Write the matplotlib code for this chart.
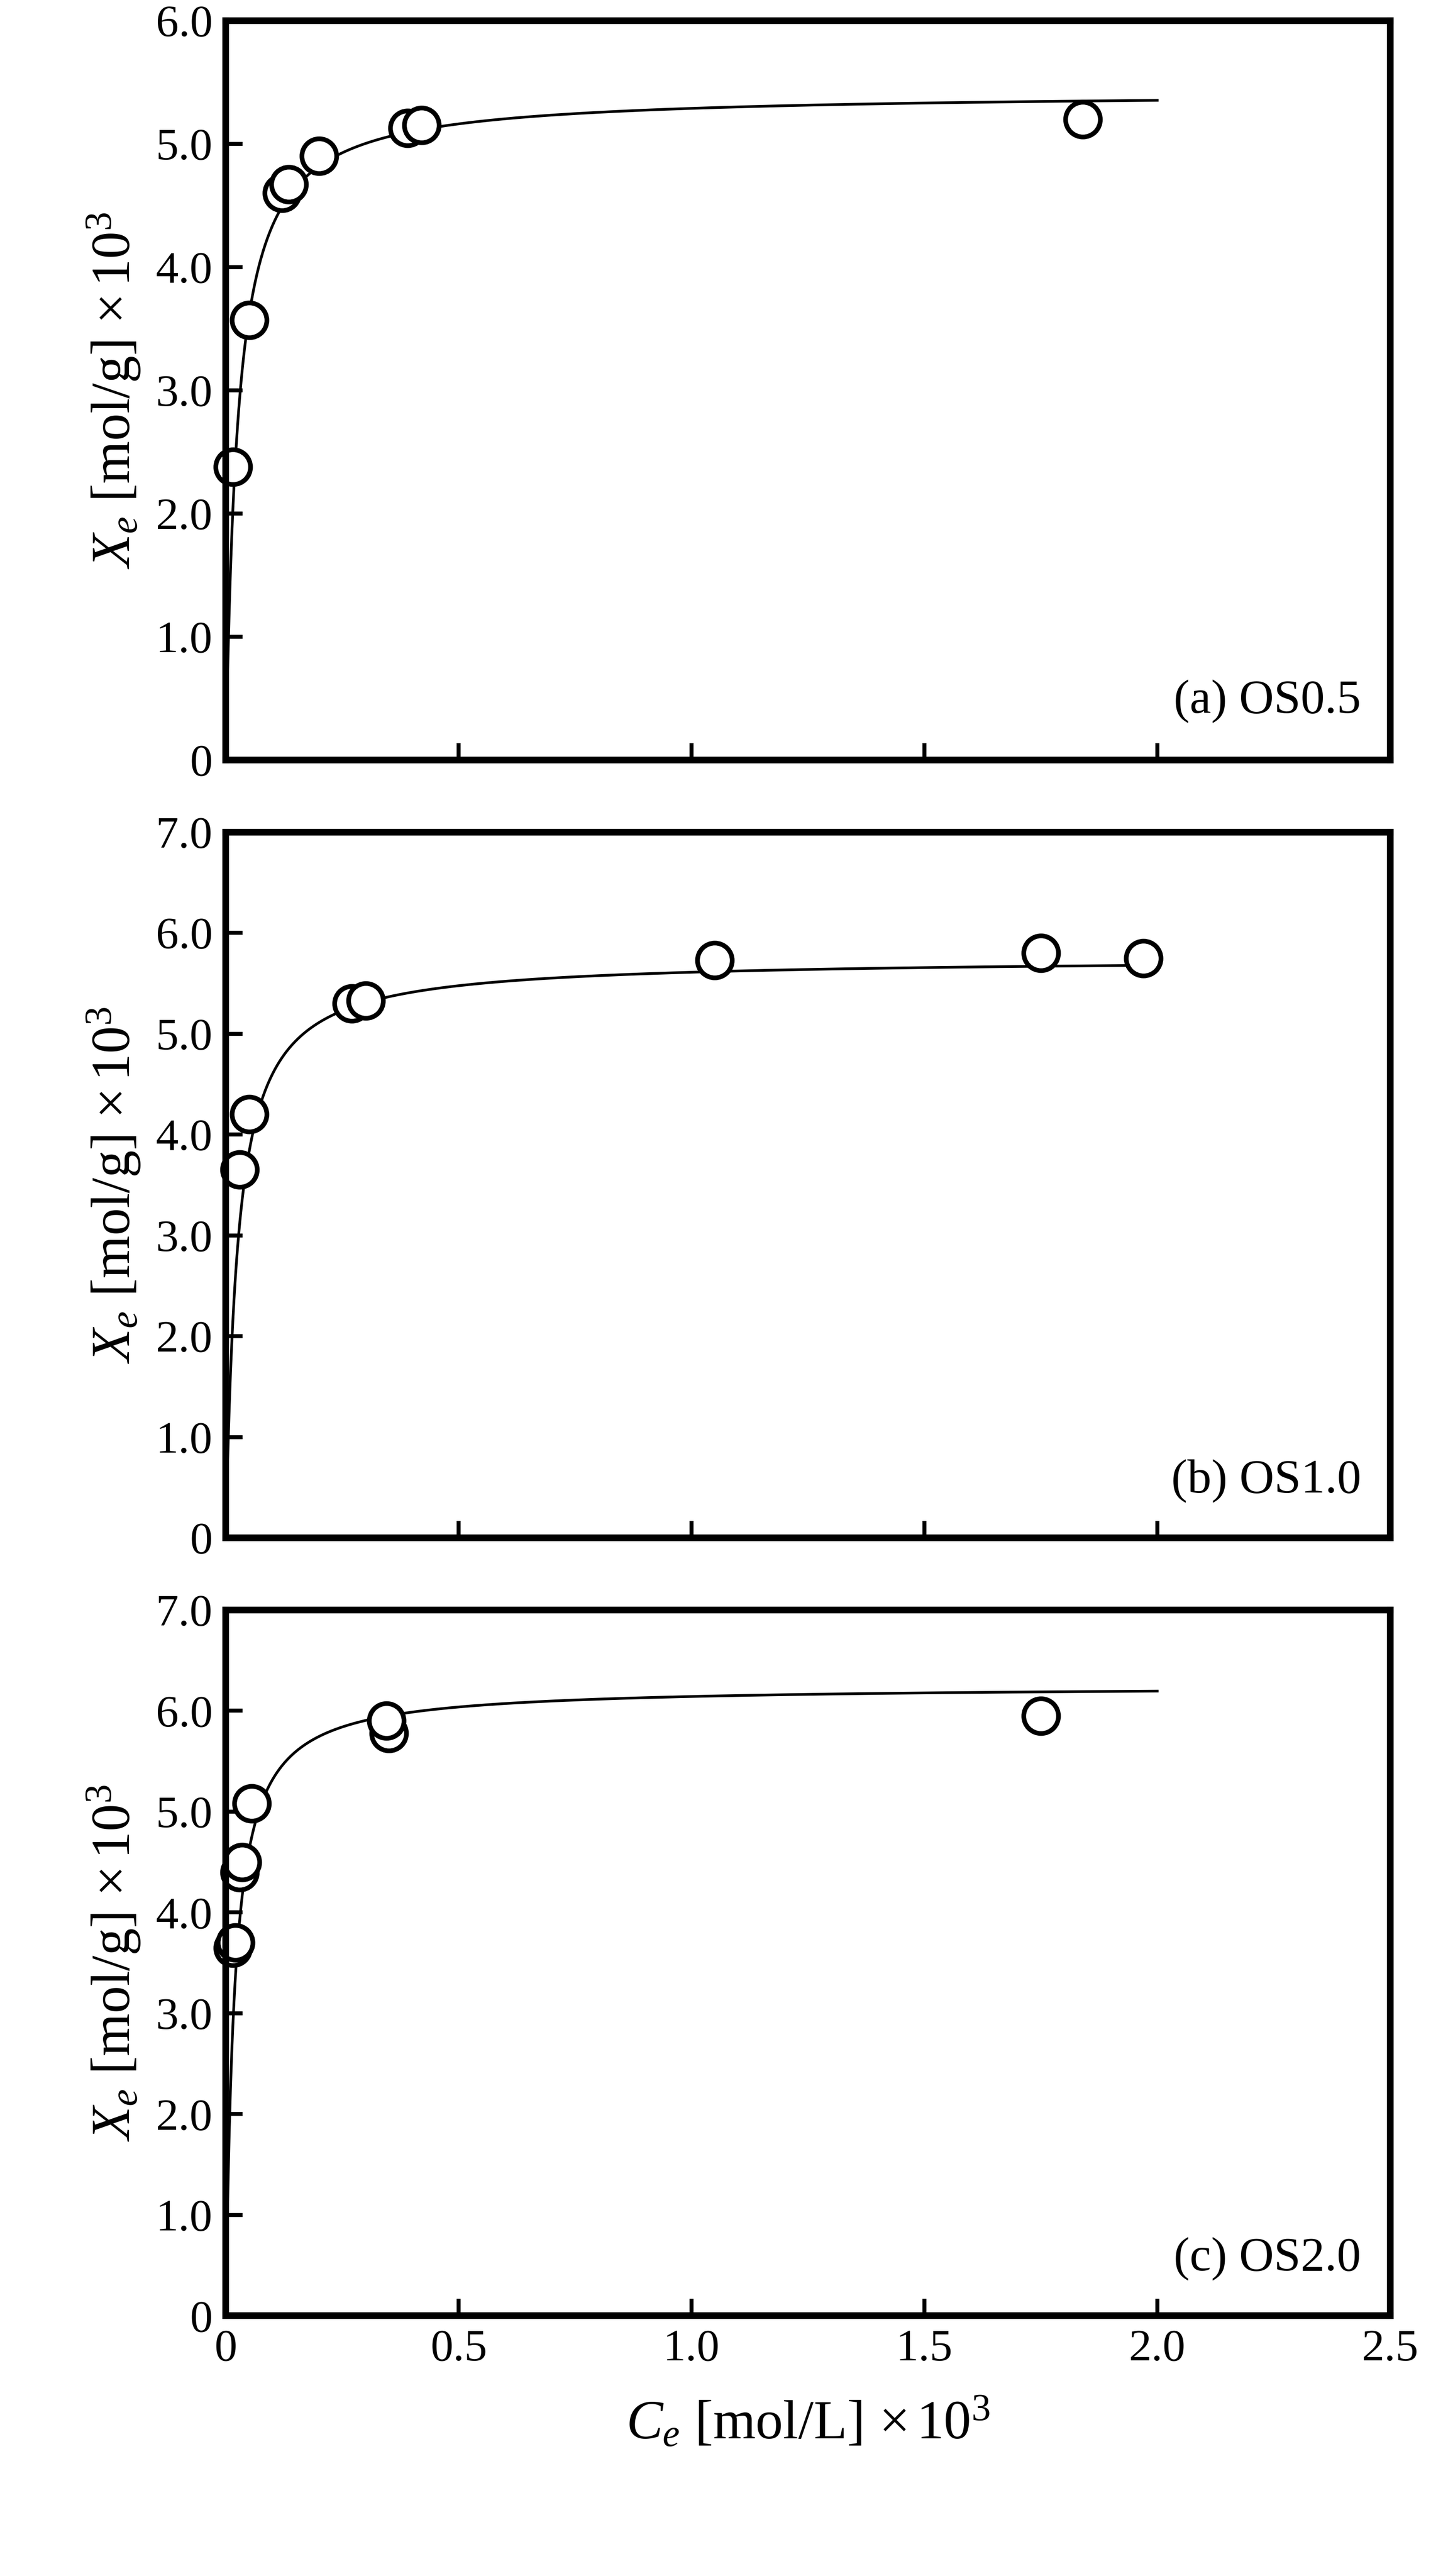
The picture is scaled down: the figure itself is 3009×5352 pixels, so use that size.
import numpy as np
import matplotlib
matplotlib.use("Agg")
import matplotlib.pyplot as plt

plt.rcParams['font.family'] = ['Liberation Serif', 'DejaVu Serif']
plt.rcParams['mathtext.fontset'] = 'custom'
plt.rcParams['mathtext.rm'] = 'Liberation Serif'
plt.rcParams['mathtext.it'] = 'Liberation Serif:italic'

labels = ["(a) OS0.5", "(b) OS1.0", "(c) OS2.0"]
xa = [0.015, 0.05, 0.12, 0.135, 0.2, 0.39, 0.42, 1.84]
ya = [2.38, 3.57, 4.6, 4.67, 4.9, 5.13, 5.15, 5.2]
xb = [0.03, 0.05, 0.27, 0.30, 1.05, 1.75, 1.97]
yb = [3.65, 4.2, 5.3, 5.33, 5.73, 5.8, 5.75]
xc = [0.015, 0.02, 0.03, 0.035, 0.055, 0.35, 0.345, 1.75]
yc = [3.65, 3.7, 4.4, 4.5, 5.08, 5.78, 5.9, 5.95]
qm = [5.42, 5.75, 6.25]
K = [40, 40, 57]
ymax = [6, 7, 7]

fig = plt.figure(figsize=(30.09, 53.52), dpi=100)
rects = [(0.705, 0.992), (0.403, 0.677), (0.101, 0.375)]
data = [(xa, ya), (xb, yb), (xc, yc)]
for i in range(3):
    b, t = rects[i]
    ax = fig.add_axes([0.156, b, 0.804, t - b])
    xs = np.linspace(0, 2.0, 800)
    ax.plot(xs, qm[i] * K[i] * xs / (1 + K[i] * xs), color='black', lw=4)
    ax.plot(data[i][0], data[i][1], 'o', ms=52, mfc='white', mec='black', mew=7, clip_on=False)
    ax.set_xlim(0, 2.5)
    ax.set_ylim(0, ymax[i])
    yt = np.arange(0, ymax[i] + 0.5, 1)
    ax.set_yticks(yt)
    ax.set_yticklabels(["0"] + [f"{v:.1f}" for v in yt[1:]])
    xt = [0, 0.5, 1.0, 1.5, 2.0, 2.5]
    ax.set_xticks(xt)
    if i == 2:
        ax.set_xticklabels(["0", "0.5", "1.0", "1.5", "2.0", "2.5"])
        ax.set_xlabel(r"$C_e$ [mol/L] $\times\,10^3$", fontsize=82, labelpad=40)
    else:
        ax.set_xticklabels([])
    ax.tick_params(direction='in', length=25, width=6, labelsize=68, pad=20)
    for s in ax.spines.values():
        s.set_linewidth(10)
    ax.set_ylabel(r"$X_e$ [mol/g] $\times\,10^3$", fontsize=82, labelpad=20)
    ax.text(0.975, 0.05, labels[i], transform=ax.transAxes, ha='right', va='bottom', fontsize=72)

fig.savefig("out.png", dpi=100)
